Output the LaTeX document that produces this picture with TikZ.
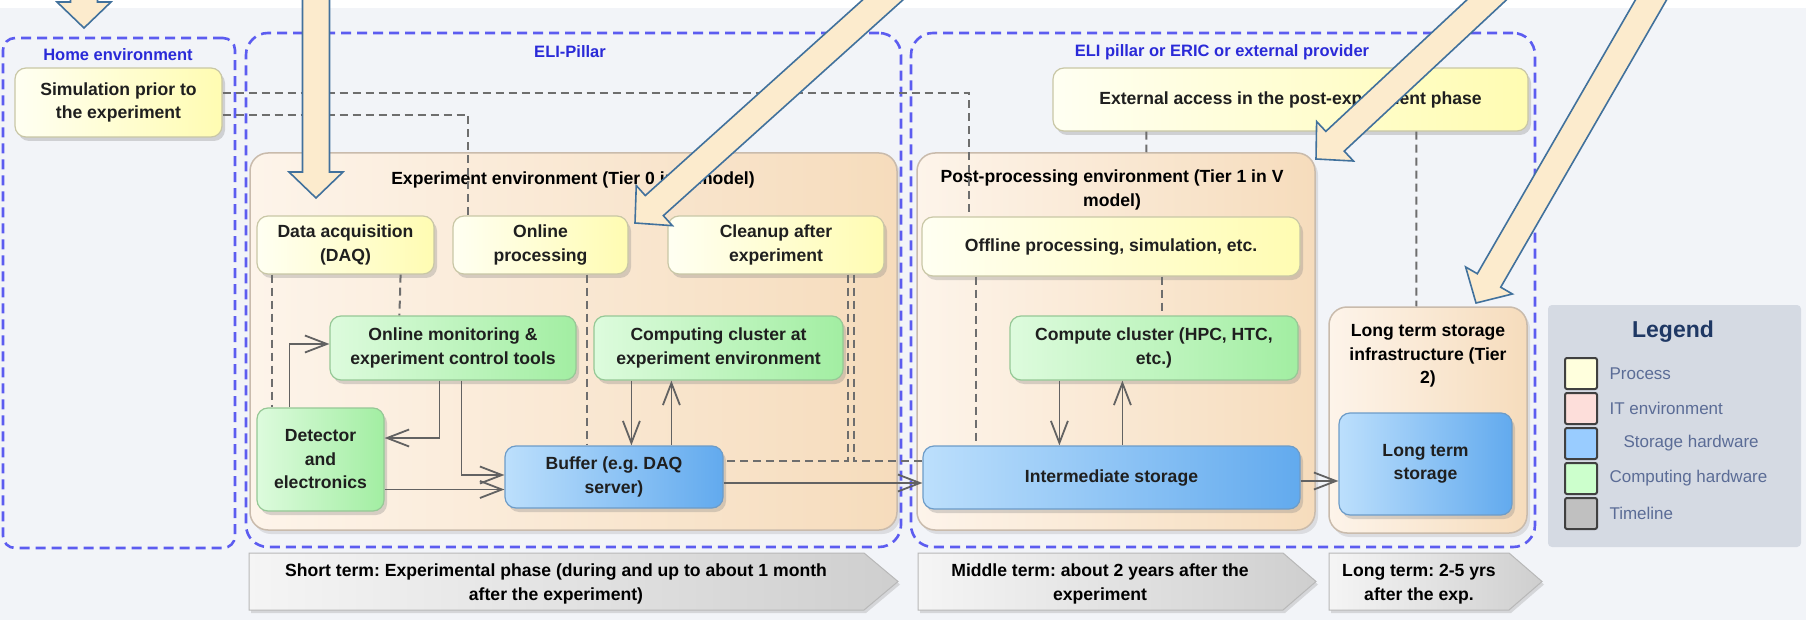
\documentclass[tikz,border=0pt]{standalone}
\usepackage{fontspec}
\setmainfont{Liberation Sans}
\usepackage{tikz}
\usetikzlibrary{calc,arrows.meta,shadows}
\frenchspacing
\definecolor{bgc}{HTML}{F2F4F8}
\definecolor{zonec}{HTML}{5C5CF0}
\definecolor{zonetxt}{HTML}{2A2AD8}
\definecolor{procl}{HTML}{FFFFF2}
\definecolor{procr}{HTML}{FFFCB2}
\definecolor{procb}{HTML}{C9C7A6}
\definecolor{compl}{HTML}{DDFBDD}
\definecolor{compr}{HTML}{A2EEA2}
\definecolor{compb}{HTML}{96C896}
\definecolor{storl}{HTML}{BCDFFC}
\definecolor{storr}{HTML}{62AAEE}
\definecolor{storb}{HTML}{6D9CC8}
\definecolor{envl}{HTML}{FDF4EA}
\definecolor{envr}{HTML}{F6DCBC}
\definecolor{envb}{HTML}{C9BBAC}
\definecolor{linkc}{HTML}{6E6E6E}
\definecolor{flowc}{HTML}{626262}
\definecolor{callfill}{HTML}{FCEBCD}
\definecolor{calldraw}{HTML}{41719C}
\definecolor{legbg}{HTML}{D5DAE3}
\definecolor{legtxt}{HTML}{5B6C96}
\definecolor{legtitle}{HTML}{1F3864}
\definecolor{swproc}{HTML}{FFFFDD}
\definecolor{swit}{HTML}{FDDEDA}
\definecolor{swstor}{HTML}{99CCFF}
\definecolor{swcomp}{HTML}{CCFFCC}
\definecolor{swtime}{HTML}{C0C0C0}
% block arrow: tip x, tip y, angle towards tail, length
\newcommand{\callarrow}[4]{%
  \begin{scope}[shift={(#1,#2)},rotate=#3]
    \draw[callout] (0pt,0pt) -- (26pt,27pt) -- (26pt,13.5pt) -- (#4pt,13.5pt)
      -- (#4pt,-13.5pt) -- (26pt,-13.5pt) -- (26pt,-27pt) -- cycle;
  \end{scope}}

\begin{document}
\begin{tikzpicture}[x=1pt, y=-1pt,
  font=\fontsize{17.6}{23.5}\selectfont\bfseries,
  sz/.style 2 args={minimum width=#1pt, minimum height=#2pt},
  box/.style={rounded corners=11pt, line width=1.2pt, align=center, inner sep=0pt, text=black!88,
    drop shadow={shadow xshift=3pt, shadow yshift=-4pt, opacity=0.3}},
  proc/.style={box, draw=procb, left color=procl, right color=procr},
  comp/.style={box, draw=compb, left color=compl, right color=compr},
  stor/.style={box, draw=storb, left color=storl, right color=storr},
  env/.style={rounded corners=18pt, draw=envb, line width=1.5pt, left color=envl, right color=envr,
    inner sep=0pt, drop shadow={shadow xshift=3pt, shadow yshift=-4pt, opacity=0.2}},
  zone/.style={draw=zonec, line width=2.6pt, dash pattern=on 10pt off 6pt, inner sep=0pt},
  zonelabel/.style={text=zonetxt, font=\fontsize{16.5}{20}\selectfont\bfseries},
  link/.style={draw=linkc, line width=2pt, dash pattern=on 8pt off 5pt},
  flow/.style={draw=flowc, line width=1.8pt, -{Straight Barb[length=22pt,width=17pt]}},
  callout/.style={fill=callfill, draw=calldraw, line width=1.6pt, line join=miter},
  phase/.style={draw=black!28, line width=1pt, left color=black!4, right color=black!19,
    drop shadow={shadow xshift=2pt, shadow yshift=-3pt, opacity=0.25}},
  swatch/.style={sz={32}{31}, draw=black!75, line width=2pt, rounded corners=2pt, inner sep=0pt},
  legitem/.style={anchor=west, text=legtxt, font=\fontsize{17}{20}\selectfont\mdseries}]
  \useasboundingbox (0,0) rectangle (1806,620);
  \fill[bgc] (0,0) rectangle (1806,620);
  \fill[white] (0,0) rectangle (1806,8);

  % zones
  \node[zone, sz={232}{510}, rounded corners=12pt] (home) at (119,293) {};
  \node[zone, sz={655}{514}, rounded corners=22pt] (pillar) at (573.5,290) {};
  \node[zone, sz={624}{514}, rounded corners=22pt] (extzone) at (1223,290) {};
  \node[zonelabel] (homettl) at (118,55) {Home environment};
  \node[zonelabel] (pillarttl) at (570,52) {ELI-Pillar};
  \node[zonelabel] (extzonettl) at (1222,52) {ELI pillar or ERIC or external provider};

  % environments
  \node[env, sz={647}{377}] (expenv) at (573.5,341.5) {};
  \node[env, sz={398}{377}] (postenv) at (1116,341.5) {};
  \node[env, sz={198}{226}] (ltsenv) at (1428,420) {};
  \node[align=center] (expttl) at (573,180) {Experiment environment (Tier 0 in V model)};
  \node[align=center] (postttl) at (1112,190) {Post-processing environment (Tier 1 in V\\model)};
  \node[align=center] (ltsttl) at (1428,356) {Long term storage\\infrastructure (Tier\\2)};

  % processes and hardware
  \node[proc, sz={207}{69}] (sim) at (118.5,102.5) {Simulation prior to\\the experiment};
  \node[proc, sz={177}{58}] (daq) at (345.5,245) {Data acquisition\\(DAQ)};
  \node[proc, sz={175}{58}] (onl) at (540.5,245) {Online\\processing};
  \node[proc, sz={216}{58}] (clean) at (776,245) {Cleanup after\\experiment};
  \node[comp, sz={246}{64}] (mon) at (453,348) {Online monitoring \&\\experiment control tools};
  \node[comp, sz={249}{64}] (ccl) at (718.5,348) {Computing cluster at\\experiment environment};
  \node[comp, sz={127}{103}] (det) at (320.5,459.5) {Detector\\and\\electronics};
  \node[stor, sz={218}{62}] (buf) at (614,477) {Buffer (e.g. DAQ\\server)};
  \node[proc, sz={475}{63}] (ext) at (1290.5,99.5) {External access in the post-experiment phase};
  \node[proc, sz={378}{59}] (off) at (1111,246.5) {Offline processing, simulation, etc.};
  \node[comp, sz={288}{64}] (ccl2) at (1154,348) {Compute cluster (HPC, HTC,\\etc.)};
  \node[stor, sz={377}{63}] (ims) at (1111.5,477.5) {Intermediate storage};
  \node[stor, sz={173}{102}] (lts) at (1425.5,464) {Long term\\storage};

  % dashed relations
  \draw[link] ([yshift=9.5pt]sim.east) -| ([xshift=48pt]off.north west);
  \draw[link] ([yshift=-12.5pt]sim.east) -| ([xshift=16pt]onl.north west);
  \draw[link] ([xshift=16pt]daq.south west) -- ([xshift=16pt]det.north west);
  \draw[link] ([xshift=-34pt]daq.south east) -- ([xshift=70pt]mon.north west);
  \draw[link] ([xshift=135pt]onl.south west) -- ([xshift=83pt]buf.north west);
  \draw[link] ([xshift=-37pt]clean.south east) |- ([yshift=16pt]buf.east);
  \draw[link] ([xshift=-31pt]clean.south east) |- ([yshift=16.5pt]ims.west);
  \draw[link] ([xshift=55pt]off.south west) -- ([xshift=54pt]ims.north west);
  \draw[link] ([xshift=241pt]off.south west) -- ([xshift=153pt]ccl2.north west);
  \draw[link] ([xshift=94pt]ext.south west) -- ([xshift=230pt]postenv.north west);
  \draw[link] ([xshift=364pt]ext.south west) -- ([xshift=88pt]ltsenv.north west);

  % data flow
  \draw[flow] ([xshift=33pt]det.north west) |- ([yshift=4pt]mon.west);
  \draw[flow] ([xshift=110pt]mon.south west) |- ([yshift=21.5pt]det.east);
  \draw[flow] ([xshift=132pt]mon.south west) |- ([yshift=2pt]buf.west);
  \draw[flow] ([yshift=-30pt]det.east) -- ([yshift=-12.5pt]buf.west);
  \draw[flow] ([xshift=38pt]ccl.south west) -- ([xshift=127pt]buf.north west);
  \draw[flow] ([xshift=167pt]buf.north west) -- ([xshift=78pt]ccl.south west);
  \draw[flow] ([yshift=-6pt]buf.east) -- ([yshift=-5.5pt]ims.west);
  \draw[flow] ([xshift=50pt]ccl2.south west) -- ([xshift=137pt]ims.north west);
  \draw[flow] ([xshift=200pt]ims.north west) -- ([xshift=113pt]ccl2.south west);
  \draw[flow] ([yshift=-3.5pt]ims.east) -- ([yshift=-17pt]lts.west);

  % timeline
  \path[phase] (249,553) -- (864,553) -- (898,581.5) -- (864,610) -- (249,610) -- cycle;
  \path[phase] (918,553) -- (1283,553) -- (1316,581.5) -- (1283,610) -- (918,610) -- cycle;
  \path[phase] (1329,553) -- (1509,553) -- (1542,581.5) -- (1509,610) -- (1329,610) -- cycle;
  \node[align=center] (tshort) at (556,584) {Short term: Experimental phase (during and up to about 1 month\\after the experiment)};
  \node[align=center] (tmid) at (1100,584) {Middle term: about 2 years after the\\experiment};
  \node[align=center] (tlong) at (1419,584) {Long term: 2-5 yrs\\after the exp.};

  % legend
  \node[fill=legbg, rounded corners=4pt, sz={253}{242}] (legend) at (1674.5,426) {};
  \node[text=legtitle, font=\fontsize{23}{26}\selectfont\bfseries] (legttl) at (1673,332) {Legend};
  \foreach \i/\col/\lbl/\ind in {0/swproc/Process/0, 1/swit/IT environment/0,
      2/swstor/Storage hardware/14, 3/swcomp/Computing hardware/0, 4/swtime/Timeline/0} {
    \node[swatch, fill=\col] (sw\i) at (1581,{373.5+35*\i}) {};
    \node[legitem] (li\i) at ({1606+\ind},{373.5+35*\i}) {\lbl};
  }

  % callout arrows
  \begin{scope}
    \clip (0,0) rectangle (1806,620);
    \callarrow{84}{28}{90}{80}
    \callarrow{316}{198}{90}{240}
    \callarrow{635}{223}{42}{380}
    \callarrow{1316}{159}{43}{280}
    \callarrow{1476}{303}{60}{400}
  \end{scope}
\end{tikzpicture}
\end{document}
